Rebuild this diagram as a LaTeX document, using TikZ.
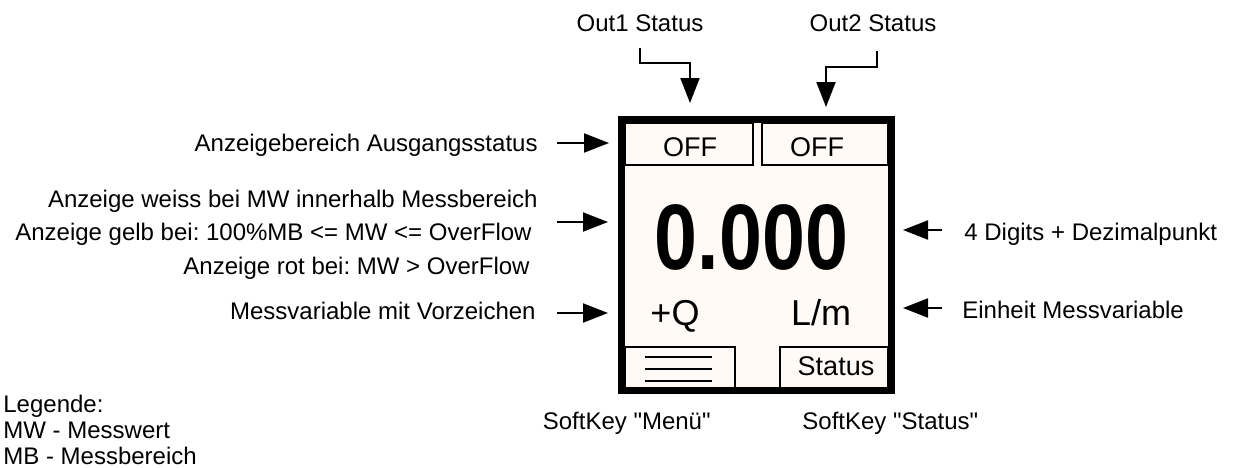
\documentclass[tikz,border=0pt]{standalone}
\usepackage{fontspec}
\setmainfont{Liberation Sans}[Ligatures=TeXOff]
\usepackage{graphicx}
\usetikzlibrary{arrows.meta}
\definecolor{dispfill}{RGB}{255,250,246}
\frenchspacing
\begin{document}
\begin{tikzpicture}[x=0.5pt,y=-0.5pt,
  lbl/.style={inner sep=0pt, font=\fontsize{12}{14}\selectfont, text height=8.6pt, text depth=0pt},
  disptxt/.style={inner sep=0pt, font=\fontsize{13.5}{16}\selectfont, text height=9.7pt, text depth=0pt},
  bigtxt/.style={inner sep=0pt, font=\fontsize{18}{20}\selectfont, text height=12.9pt, text depth=0pt},
  arr/.style={line width=1pt, -{Triangle[length=12.5pt,width=9.5pt]}},
  thinbox/.style={draw, line width=0.75pt},
  menuline/.style={line width=1pt},
  frameborder/.style={draw, line width=3.5pt},
]
\useasboundingbox (0,0) rectangle (1233,467);

% display background
\fill[dispfill] (621.5,119.5) rectangle (891.5,390.5);

% inner boxes
\draw[thinbox] (625,123) rectangle (753,165);
\draw[thinbox] (762,123) rectangle (888,165);
\draw[thinbox] (625,347) rectangle (735,388);
\draw[thinbox] (780,347) rectangle (888,388);

% menu icon
\draw[menuline] (645,357) -- (712,357);
\draw[menuline] (645,369) -- (712,369);
\draw[menuline] (645,381) -- (712,381);

% frame
\draw[frameborder] (621.5,119.5) rectangle (891.5,390.5);

% display texts
\node[disptxt] (off1) at (690,147) {OFF};
\node[disptxt] (off2) at (817,147) {OFF};
\node[inner sep=0pt, text height=33.3pt, text depth=0pt] (val) at (751.5,236.5)
  {\scalebox{0.83}[1]{\fontsize{46.5}{50}\selectfont\bfseries 0.000}};
\node[bigtxt] (sign) at (675,313) {+Q};
\node[bigtxt] (unit) at (821,313) {L/m};
\node[disptxt] (stat) at (836,366) {Status};

% top labels
\node[lbl] (o1) at (640,23) {Out1 Status};
\node[lbl] (o2) at (873,23) {Out2 Status};
\coordinate (o1s) at (640,48);
\coordinate (o1t) at (690,103);
\coordinate (o2s) at (877,51);
\coordinate (o2t) at (826,107);
\draw[arr] (o1s) -- ++(0,15) -| (o1t);
\draw[arr] (o2s) -- ++(0,16) -| (o2t);

% left labels
\node[lbl, anchor=east] (l1) at (538,143) {Anzeigebereich Ausgangsstatus};
\node[lbl, anchor=east] (l2a) at (538,199) {Anzeige weiss bei MW innerhalb Messbereich};
\node[lbl, anchor=east] (l2b) at (532,232) {Anzeige gelb bei: 100\%MB <= MW <= OverFlow};
\node[lbl, anchor=east] (l2c) at (530,266) {Anzeige rot bei: MW > OverFlow};
\node[lbl, anchor=east] (l3) at (536,311) {Messvariable mit Vorzeichen};
\coordinate (a1s) at (557,143); \coordinate (a1t) at (609,143);
\coordinate (a2s) at (557,222); \coordinate (a2t) at (608,222);
\coordinate (a3s) at (557,313); \coordinate (a3t) at (608,313);
\draw[arr] (a1s) -- (a1t);
\draw[arr] (a2s) -- (a2t);
\draw[arr] (a3s) -- (a3t);

% right labels
\node[lbl, anchor=west] (r1) at (964,232) {4 Digits + Dezimalpunkt};
\node[lbl, anchor=west] (r2) at (962,310) {Einheit Messvariable};
\coordinate (b1s) at (942,230); \coordinate (b1t) at (903,230);
\coordinate (b2s) at (942,308); \coordinate (b2t) at (903,308);
\draw[arr] (b1s) -- (b1t);
\draw[arr] (b2s) -- (b2t);

% softkey labels
\node[lbl, anchor=east] (sk1) at (711,421) {SoftKey "Menü"};
\node[lbl, anchor=west] (sk2) at (802,421) {SoftKey "Status"};

% legend
\node[lbl, anchor=west] (lg1) at (3,404) {Legende:};
\node[lbl, anchor=west] (lg2) at (3,430) {MW - Messwert};
\node[lbl, anchor=west] (lg3) at (3,456) {MB - Messbereich};
\end{tikzpicture}
\end{document}
